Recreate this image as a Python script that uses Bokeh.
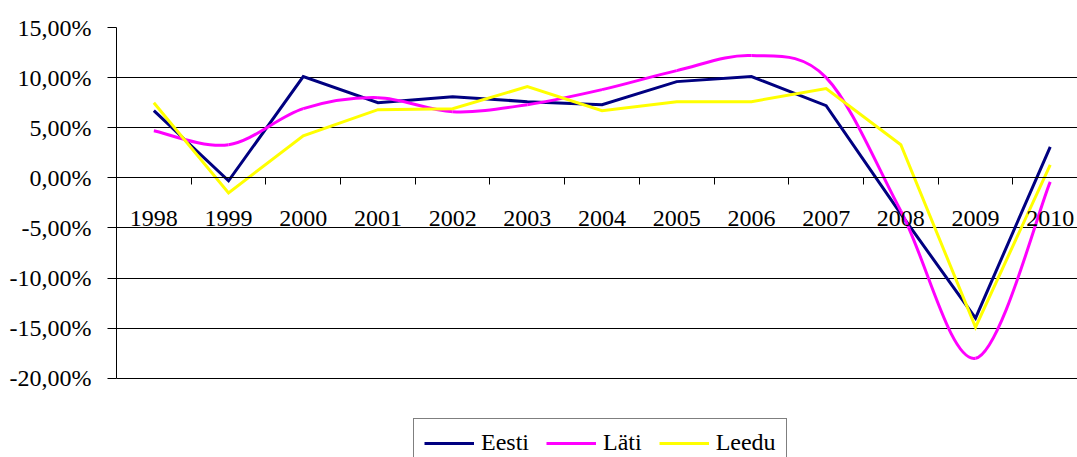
from bokeh.plotting import figure
from bokeh.models import Range1d, FixedTicker, Legend, LegendItem, ColumnDataSource
from bokeh.embed import file_html
from bokeh.resources import INLINE

# ---- data -------------------------------------------------------------
years = ["1998", "1999", "2000", "2001", "2002", "2003", "2004",
         "2005", "2006", "2007", "2008", "2009", "2010"]
eesti = [6.7, -0.3, 10.1, 7.5, 8.1, 7.6, 7.3, 9.6, 10.1, 7.2, -3.6, -14.0, 3.1]
lati = [4.7, 3.3, 6.9, 8.0, 6.6, 7.3, 8.8, 10.7, 12.2, 10.0, -3.3, -18.0, -0.4]
leedu = [7.5, -1.5, 4.2, 6.8, 6.9, 9.1, 6.7, 7.6, 7.6, 8.9, 3.3, -14.9, 1.3]
series_names = ["Eesti", "Läti", "Leedu"]
y_ticks = [-20, -15, -10, -5, 0, 5, 10, 15]
y_tick_labels = ["-20,00%", "-15,00%", "-10,00%", "-5,00%", "0,00%",
                 "5,00%", "10,00%", "15,00%"]

FONT = "'Liberation Serif', 'Times New Roman', serif"
FS = "24px"

xc = [i + 0.5 for i in range(len(years))]

# frame runs to the bottom of the canvas so the legend below the
# value axis (which is bounded to -20..15) is not clipped
p = figure(width=1077, height=457, output_backend="svg", toolbar_location=None,
           x_range=Range1d(0, 12.865), y_range=Range1d(-27.9, 15),
           min_border_left=116, min_border_right=0, min_border_top=27,
           min_border_bottom=0)
p.outline_line_color = None
p.background_fill_color = "white"
p.border_fill_color = "white"
p.xgrid.visible = False
p.ygrid.grid_line_color = "black"
p.ygrid.grid_line_width = 1
p.ygrid.ticker = FixedTicker(ticks=y_ticks)

# y axis
ya = p.yaxis[0]
ya.bounds = (min(y_ticks), max(y_ticks))
ya.ticker = FixedTicker(ticks=y_ticks)
ya.major_label_overrides = {t: l for t, l in zip(y_ticks, y_tick_labels)}
ya.major_tick_out = 9
ya.major_tick_in = 0
ya.minor_tick_out = 0
ya.minor_tick_in = 0
ya.axis_line_color = "black"
ya.major_tick_line_color = "black"
ya.major_label_text_font = FONT
ya.major_label_text_font_size = FS
ya.major_label_text_color = "black"
ya.major_label_standoff = 16

# x axis fixed at 0
xa = p.xaxis[0]
xa.fixed_location = 0
xa.ticker = FixedTicker(ticks=xc, minor_ticks=list(range(1, len(years))))
xa.major_label_overrides = {c: y for c, y in zip(xc, years)}
xa.major_tick_out = 0
xa.major_tick_in = 0
xa.minor_tick_out = 7
xa.minor_tick_in = 0
xa.minor_tick_line_color = "black"
xa.axis_line_color = "black"
xa.major_label_text_font = FONT
xa.major_label_text_font_size = FS
xa.major_label_text_color = "black"
xa.major_label_standoff = 26

# series
r1 = p.line(xc, eesti, line_color="#000080", line_width=3, line_join="miter")

# smoothed Läti line via bezier segments derived from the data points
n = len(lati)
x0 = []; y0 = []; x1 = []; y1 = []; cx0 = []; cy0 = []; cx1 = []; cy1 = []
for i in range(n - 1):
    pa = (xc[max(i - 1, 0)], lati[max(i - 1, 0)])
    pb = (xc[i], lati[i])
    pc = (xc[i + 1], lati[i + 1])
    pd = (xc[min(i + 2, n - 1)], lati[min(i + 2, n - 1)])
    x0.append(pb[0]); y0.append(pb[1]); x1.append(pc[0]); y1.append(pc[1])
    cx0.append(pb[0] + (pc[0] - pa[0]) / 6); cy0.append(pb[1] + (pc[1] - pa[1]) / 6)
    cx1.append(pc[0] - (pd[0] - pb[0]) / 6); cy1.append(pc[1] - (pd[1] - pb[1]) / 6)
src = ColumnDataSource(dict(x0=x0, y0=y0, x1=x1, y1=y1, cx0=cx0, cy0=cy0, cx1=cx1, cy1=cy1))
r2 = p.bezier(x0="x0", y0="y0", x1="x1", y1="y1", cx0="cx0", cy0="cy0",
              cx1="cx1", cy1="cy1", source=src, line_color="#FF00FF", line_width=3)

r3 = p.line(xc, leedu, line_color="#FFFF00", line_width=3, line_join="miter")

legend = Legend(items=[LegendItem(label=series_names[0], renderers=[r1]),
                       LegendItem(label=series_names[1], renderers=[r2]),
                       LegendItem(label=series_names[2], renderers=[r3])],
                location=(297, -10), orientation="horizontal")
legend.label_text_font = FONT
legend.label_text_font_size = FS
legend.label_text_color = "black"
legend.border_line_color = "black"
legend.border_line_width = 1
legend.background_fill_color = "white"
legend.background_fill_alpha = 1
legend.glyph_width = 50
legend.glyph_height = 20
legend.label_standoff = 7
legend.spacing = 17
legend.padding = 10
legend.margin = 0
p.add_layout(legend, "center")

open("out.html", "w").write(file_html(p, INLINE))
